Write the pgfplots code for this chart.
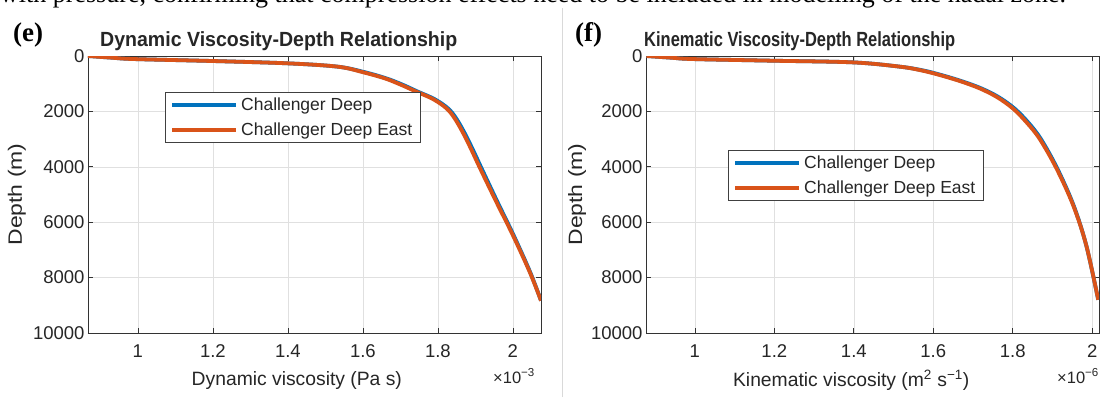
\documentclass[border=0pt]{standalone}
\usepackage{pgfplots}
\pgfplotsset{compat=1.18}
\usepackage{fontspec}
\setmainfont{Liberation Sans}
\newfontfamily\seriffont{Liberation Serif}
\definecolor{mblue}{rgb}{0,0.447,0.741}
\definecolor{morange}{rgb}{0.85,0.325,0.098}

\pgfplotstableread{
x y
0.867 0
0.930 60
0.990 110
1.197 180
1.400 265
1.533 385
1.605 585
1.663 810
1.705 1030
1.747 1290
1.791 1555
1.827 1890
1.849 2255
1.872 2797
1.894 3400
1.916 4040
1.959 5270
2.002 6470
2.046 7800
2.075 8830
}\dynblue
\pgfplotstableread{
x y
0.867 0
0.930 60
0.990 110
1.197 180
1.400 265
1.533 385
1.600 585
1.659 810
1.700 1030
1.743 1290
1.787 1555
1.823 1890
1.845 2255
1.868 2797
1.890 3400
1.912 4040
1.956 5270
2.000 6470
2.045 7800
2.075 8830
}\dynorange
\pgfplotstableread{
x y
0.878 0
0.940 60
0.995 110
1.196 170
1.398 230
1.516 385
1.574 520
1.621 690
1.674 920
1.721 1170
1.764 1480
1.804 1890
1.839 2400
1.871 3000
1.912 4060
1.953 5390
1.985 6840
2.015 8800
}\kinblue
\pgfplotstableread{
x y
0.878 0
0.940 60
0.995 110
1.196 170
1.398 230
1.516 385
1.570 520
1.617 690
1.670 920
1.717 1170
1.760 1480
1.800 1890
1.835 2400
1.868 3000
1.910 4060
1.952 5390
1.985 6840
2.015 8800
}\kinorange

\pgfplotsset{
  myaxis/.style={
    scale only axis, width=453pt, height=277pt,
    y dir=reverse, ymin=0, ymax=10000,
    scaled x ticks=false, scaled y ticks=false,
    ytick={0,2000,4000,6000,8000,10000},
    yticklabels={0,2000,4000,6000,8000,10000},
    xtick={1,1.2,1.4,1.6,1.8,2},
    xticklabels={1,1.2,1.4,1.6,1.8,2},
    tick align=inside, major tick length=5pt,
    xtick pos=both, ytick pos=both,
    axis line style={draw=black!80, line width=0.7pt},
    tick style={draw=black!80, line width=0.7pt},
    grid=major, grid style={draw=black!12, line width=0.6pt},
    tick label style={font=\fontsize{18.5}{22}\selectfont, text=black!85},
    xticklabel style={yshift=-8pt},
    label style={font=\fontsize{19.3}{23}\selectfont, text=black!85},
    legend style={draw=black!75, line width=0.7pt, fill=white,
      font=\fontsize{17.5}{21}\selectfont, text=black!85,
      inner xsep=5pt, inner ysep=2.5pt, row sep=5pt,
      nodes={inner sep=3pt}, cells={anchor=west}},
    legend image code/.code={\draw[#1] (0pt,0pt) -- (64pt,0pt);},
    every axis plot/.append style={line width=3.8pt, smooth, tension=0.55},
  }
}

\begin{document}
\begin{tikzpicture}[x=1pt,y=1pt]
\useasboundingbox (0,0) rectangle (1104,397);
\fill[white] (0,0) rectangle (1104,397);
\begin{scope}
\clip (0,0) rectangle (1104,397);
\node[anchor=base west, inner sep=0, font=\seriffont\fontsize{26}{30}\selectfont] at (0,394)
  {with pressure, confirming that compression effects need to be included in modelling of the hadal zone.};
\end{scope}
\draw[black!15, line width=0.8pt] (562,0) -- (562,389);

\node[anchor=base west, inner sep=0, font=\seriffont\bfseries\fontsize{27}{30}\selectfont] at (13,355.5) {(e)};
\node[anchor=base west, inner sep=0, font=\seriffont\bfseries\fontsize{27}{30}\selectfont] at (575,355.5) {(f)};
\node[anchor=base west, inner sep=0, font=\bfseries\fontsize{20.5}{24}\selectfont, text=black!85] at (100,350)
  {\resizebox{357pt}{\height}{Dynamic Viscosity-Depth Relationship}};
\node[anchor=base west, inner sep=0, font=\bfseries\fontsize{20.5}{24}\selectfont, text=black!85] at (644,350)
  {\resizebox{311pt}{\height}{Kinematic Viscosity-Depth Relationship}};

\begin{axis}[myaxis, at={(88pt,64pt)}, anchor=south west,
  xmin=0.867, xmax=2.075,
  xlabel={Dynamic viscosity (Pa s)},
  xlabel style={at={(axis description cs:0.461,-0.170)}, anchor=center},
  ylabel={\resizebox{102pt}{\height}{Depth (m)}},
  ylabel style={at={(axis description cs:-0.157,0.5)}, anchor=center},
  legend style={at={(axis description cs:0.170,0.870)}, anchor=north west},
]
\addplot[mblue] table {\dynblue};
\addlegendentry{Challenger Deep}
\addplot[morange] table {\dynorange};
\addlegendentry{Challenger Deep East}
\end{axis}

\begin{axis}[myaxis, at={(646pt,64pt)}, anchor=south west,
  xmin=0.877, xmax=2.017,
  xlabel={Kinematic viscosity (m\textsuperscript{2} s\textsuperscript{−1})},
  xlabel style={at={(axis description cs:0.453,-0.170)}, anchor=center},
  ylabel={\resizebox{102pt}{\height}{Depth (m)}},
  ylabel style={at={(axis description cs:-0.152,0.5)}, anchor=center},
  legend style={at={(axis description cs:0.181,0.661)}, anchor=north west},
]
\addplot[mblue] table {\kinblue};
\addlegendentry{Challenger Deep}
\addplot[morange] table {\kinorange};
\addlegendentry{Challenger Deep East}
\end{axis}

\node[anchor=base west, inner sep=0, font=\fontsize{16.5}{19}\selectfont, text=black!85]
  at (493,14) {×10\textsuperscript{−3}};
\node[anchor=base west, inner sep=0, font=\fontsize{16.5}{19}\selectfont, text=black!85]
  at (1057,14) {×10\textsuperscript{−6}};
\end{tikzpicture}
\end{document}
